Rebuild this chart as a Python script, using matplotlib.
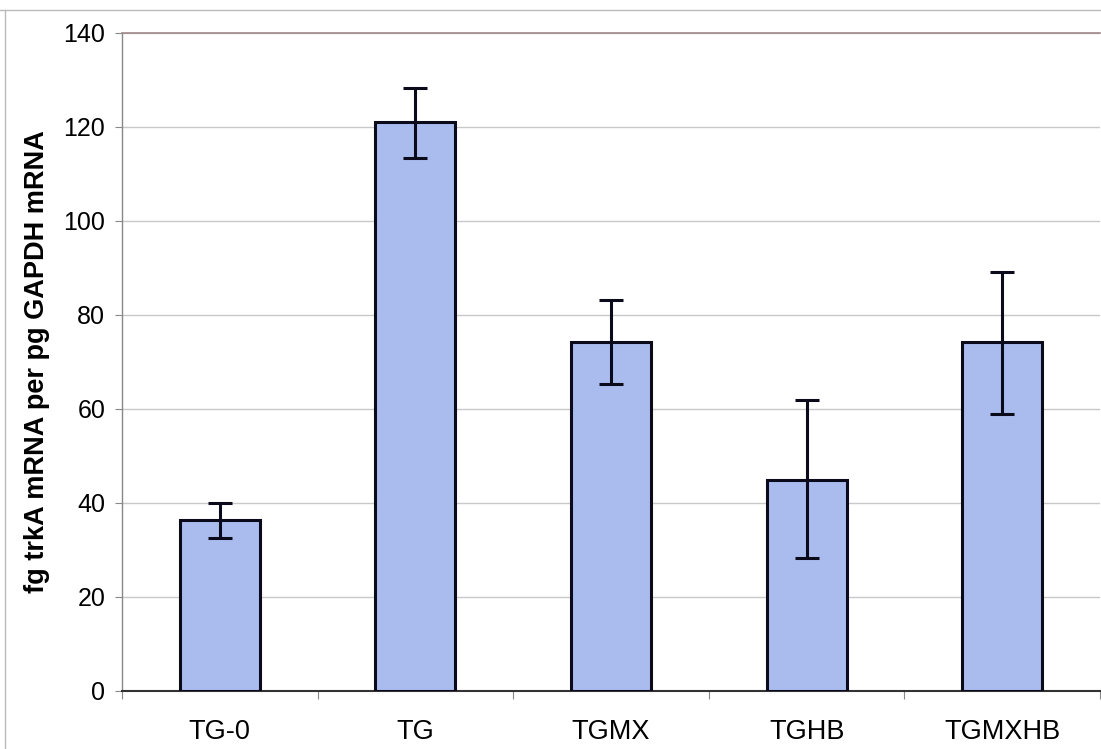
import matplotlib
matplotlib.use("Agg")
import matplotlib.pyplot as plt
from matplotlib.lines import Line2D

categories = ["TG-0", "TG", "TGMX", "TGHB", "TGMXHB"]
values = [36.3, 121.0, 74.3, 45.0, 74.2]
err_upper = [40.0, 128.4, 83.1, 62.0, 89.2]
err_lower = [32.5, 113.5, 65.3, 28.2, 58.9]
yticks = [0, 20, 40, 60, 80, 100, 120, 140]
ylabel = "fg trkA mRNA per pg GAPDH mRNA"

plt.rcParams['font.family'] = ['Liberation Sans', 'DejaVu Sans']

fig = plt.figure(figsize=(11.01, 7.49), dpi=100)
ax = fig.add_axes([122/1101, 1 - 691/749, (1100 - 122)/1101, (691 - 33)/749])

x = list(range(len(categories)))
yerr = [[v - lo for v, lo in zip(values, err_lower)],
        [hi - v for v, hi in zip(values, err_upper)]]
ax.bar(x, values, width=0.41, color="#aabbee", edgecolor="#0a0a1a", linewidth=2.2, zorder=3)
ax.errorbar(x, values, yerr=yerr, fmt="none", ecolor="#0a0a1a", elinewidth=2.2,
            capsize=8.5, capthick=2.2, zorder=4)

ax.set_xlim(-0.5, len(categories) - 0.5)
ax.set_ylim(0, 140)
ax.set_yticks(yticks)
ax.set_yticklabels([str(t) for t in yticks], fontsize=18)
ax.set_xticks(x)
ax.set_xticklabels(categories, fontsize=19.5)
ax.tick_params(axis='x', length=0, pad=20)
ax.tick_params(axis='y', length=5, width=0.8, color="#888888", pad=7)
ax.set_xticks([i - 0.5 for i in range(len(categories) + 1)], minor=True)
ax.tick_params(axis='x', which='minor', length=6, width=0.8, color="#888888")

ax.grid(axis='y', color="#c8c8c8", linewidth=1.0, zorder=0)
ax.set_axisbelow(True)
ax.spines["top"].set_color("#a08888")
ax.spines["top"].set_linewidth(1.2)
ax.spines["right"].set_visible(False)
ax.spines["left"].set_color("#888888")
ax.spines["left"].set_linewidth(1.0)
ax.spines["bottom"].set_color("#333333")
ax.spines["bottom"].set_linewidth(1.5)

ax.set_ylabel(ylabel, fontsize=19.5, fontweight="bold", labelpad=10)

# outer chart frame lines
fig.add_artist(Line2D([0, 1], [1 - 10/749, 1 - 10/749], color="#bbbbbb", linewidth=1.0, transform=fig.transFigure))
fig.add_artist(Line2D([5/1101, 5/1101], [0, 1 - 10/749], color="#bbbbbb", linewidth=1.0, transform=fig.transFigure))

fig.savefig("out.png", dpi=100)
